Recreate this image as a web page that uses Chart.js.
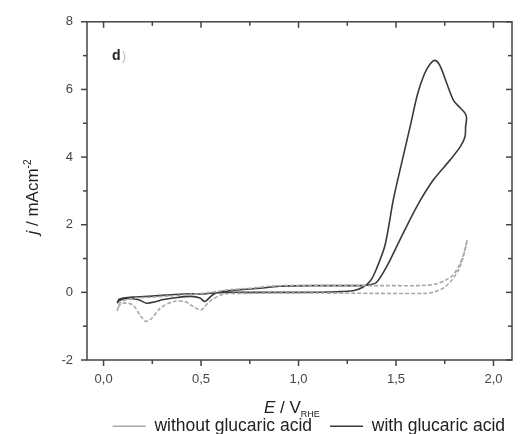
<!DOCTYPE html>
<html>
<head>
<meta charset="utf-8">
<script src="https://cdn.jsdelivr.net/npm/chart.js@4/dist/chart.umd.min.js"></script>
<style>
  html, body { margin: 0; padding: 0; background: #fff; }
</style>
</head>
<body>
<canvas id="cv" width="527" height="434"></canvas>
<script>
// cyclic voltammogram, with glucaric acid (solid)
const withE = [0.07, 0.08, 0.10, 0.15, 0.25, 0.35, 0.45, 0.50, 0.56, 0.62, 0.80, 1.00, 1.20, 1.28, 1.33, 1.37, 1.40, 1.444, 1.486, 1.53, 1.572, 1.61, 1.645, 1.675, 1.70, 1.726, 1.761, 1.795, 1.83, 1.854, 1.862,
               1.857, 1.854, 1.829, 1.777, 1.691, 1.606, 1.52, 1.452, 1.401, 1.36, 1.30, 1.10, 0.90, 0.80, 0.70, 0.60, 0.56, 0.52, 0.495, 0.45, 0.38, 0.30, 0.27, 0.22, 0.18, 0.12, 0.08, 0.07];
const withJ = [-0.30, -0.20, -0.17, -0.14, -0.11, -0.07, -0.04, -0.05, -0.02, 0.00, 0.00, 0.00, 0.02, 0.05, 0.15, 0.35, 0.70, 1.40, 2.73, 3.85, 4.89, 5.85, 6.45, 6.75, 6.86, 6.70, 6.17, 5.68, 5.45, 5.30, 5.15,
               4.90, 4.60, 4.30, 3.91, 3.32, 2.53, 1.55, 0.76, 0.30, 0.22, 0.20, 0.20, 0.18, 0.12, 0.08, 0.02, -0.07, -0.27, -0.17, -0.12, -0.15, -0.22, -0.27, -0.32, -0.22, -0.18, -0.24, -0.32];

// without glucaric acid (grey dashed)
const withoutE = [0.07, 0.08, 0.10, 0.15, 0.25, 0.35, 0.45, 0.55, 0.65, 0.75, 0.85, 0.95, 1.20, 1.45, 1.62, 1.70, 1.75, 1.79, 1.82, 1.845, 1.865,
                  1.86, 1.84, 1.82, 1.78, 1.74, 1.70, 1.65, 1.40, 1.10, 0.90, 0.75, 0.62, 0.56, 0.53, 0.50, 0.46, 0.42, 0.36, 0.29, 0.25, 0.22, 0.19, 0.15, 0.10, 0.08, 0.07];
const withoutJ = [-0.55, -0.35, -0.25, -0.18, -0.14, -0.10, -0.06, 0.00, 0.08, 0.12, 0.18, 0.20, 0.20, 0.20, 0.20, 0.24, 0.35, 0.50, 0.75, 1.10, 1.55,
                  1.40, 0.95, 0.65, 0.32, 0.12, 0.02, -0.03, -0.03, -0.02, -0.02, -0.03, -0.05, -0.20, -0.35, -0.52, -0.42, -0.28, -0.27, -0.47, -0.75, -0.86, -0.70, -0.37, -0.32, -0.40, -0.55];

const seriesNames = ['without glucaric acid', 'with glucaric acid'];
const xMajor = [0, 0.5, 1.0, 1.5, 2.0];
const xMinor = [0.25, 0.75, 1.25, 1.75];
const yMajor = [-2, 0, 2, 4, 6, 8];
const yMinor = [-1, 1, 3, 5, 7];

const FONT = '"Liberation Sans", Arial, sans-serif';
const toPts = (xs, ys) => xs.map((v, i) => ({ x: v, y: ys[i] }));

// nudge the legend down/right so it sits under the axis title like the original
const legendShift = {
  id: 'legendShift',
  afterLayout(chart) {
    const lg = chart.legend;
    if (!lg) return;
    lg.top += 11; lg.bottom += 11;
    lg.left += 11; lg.right += 11;
  }
};

const framePlugin = {
  id: 'frame',
  afterDatasetsDraw(chart) {
    const { ctx, chartArea: a, scales: { x, y } } = chart;
    ctx.save();
    ctx.strokeStyle = '#444';
    ctx.lineWidth = 1.5;
    ctx.strokeRect(a.left, a.top, a.right - a.left, a.bottom - a.top);
    const seg = (x1, y1, x2, y2) => { ctx.beginPath(); ctx.moveTo(x1, y1); ctx.lineTo(x2, y2); ctx.stroke(); };
    xMajor.forEach(v => { const p = x.getPixelForValue(v); seg(p, a.bottom, p, a.bottom + 6); seg(p, a.top, p, a.top + 6); });
    xMinor.forEach(v => { const p = x.getPixelForValue(v); seg(p, a.bottom, p, a.bottom + 4); seg(p, a.top, p, a.top + 4); });
    yMajor.forEach(v => { const p = y.getPixelForValue(v); seg(a.left - 6, p, a.left, p); seg(a.right - 6, p, a.right, p); });
    yMinor.forEach(v => { const p = y.getPixelForValue(v); seg(a.left - 4, p, a.left, p); seg(a.right - 4, p, a.right, p); });

    // panel label
    ctx.fillStyle = '#222';
    ctx.font = 'bold 14px ' + FONT;
    ctx.textBaseline = 'alphabetic';
    ctx.fillText('d', 112, 60);
    ctx.fillStyle = '#bbb';
    ctx.font = '12px ' + FONT;
    ctx.fillText(')', 122, 60);

    // x title: E / V_RHE
    ctx.fillStyle = '#222';
    let cx = 264, by = 413;
    ctx.font = 'italic 17px ' + FONT;
    ctx.fillText('E', cx, by); cx += ctx.measureText('E').width;
    ctx.font = '17px ' + FONT;
    ctx.fillText(' / V', cx, by); cx += ctx.measureText(' / V').width;
    ctx.font = '9px ' + FONT;
    ctx.fillText('RHE', cx, by + 4);

    // y title: j / mAcm^-2
    ctx.translate(32, 197);
    ctx.rotate(-Math.PI / 2);
    const parts = [['italic 17px', 'j', 0], ['17px', ' / mAcm', 0], ['10px', '-2', -7]];
    let w = 0;
    parts.forEach(p => { ctx.font = p[0] + ' ' + FONT; w += ctx.measureText(p[1]).width; });
    let px = -w / 2;
    parts.forEach(p => {
      ctx.font = p[0] + ' ' + FONT;
      ctx.fillText(p[1], px, 6 + p[2]);
      px += ctx.measureText(p[1]).width;
    });
    ctx.restore();
  }
};

new Chart(document.getElementById('cv').getContext('2d'), {
  type: 'scatter',
  data: {
    datasets: [{
      label: seriesNames[0],
      data: toPts(withoutE, withoutJ),
      showLine: true,
      borderColor: '#a8a8a8',
      backgroundColor: '#a8a8a8',
      borderWidth: 1.6,
      borderDash: [4, 2],
      pointRadius: 0,
      tension: 0.3
    }, {
      label: seriesNames[1],
      data: toPts(withE, withJ),
      showLine: true,
      borderColor: '#3a3a3a',
      backgroundColor: '#3a3a3a',
      borderWidth: 1.6,
      pointRadius: 0,
      tension: 0.3
    }]
  },
  options: {
    responsive: false,
    animation: false,
    layout: { padding: { top: 21, right: 15, left: 0, bottom: 0 } },
    plugins: {
      tooltip: { enabled: false },
      legend: {
        position: 'bottom',
        align: 'end',
        labels: {
          usePointStyle: true,
          pointStyle: 'line',
          pointStyleWidth: 33,
          padding: 18,
          color: '#222',
          font: { family: FONT, size: 17.5 }
        }
      }
    },
    scales: {
      x: {
        type: 'linear',
        min: -0.085,
        max: 2.095,
        grid: { display: false, drawTicks: false },
        border: { display: false },
        afterFit: s => { s.height = 28.5; },
        ticks: {
          stepSize: 0.5,
          includeBounds: false,
          padding: 12,
          color: '#444',
          font: { family: FONT, size: 13 },
          callback: v => v.toFixed(1).replace('.', ',')
        }
      },
      y: {
        type: 'linear',
        min: -2,
        max: 8,
        grid: { display: false, drawTicks: false },
        border: { display: false },
        afterFit: s => { s.width = 87; },
        ticks: {
          stepSize: 2,
          padding: 14,
          color: '#444',
          font: { family: FONT, size: 13 }
        }
      }
    }
  },
  plugins: [legendShift, framePlugin]
});
</script>
</body>
</html>
